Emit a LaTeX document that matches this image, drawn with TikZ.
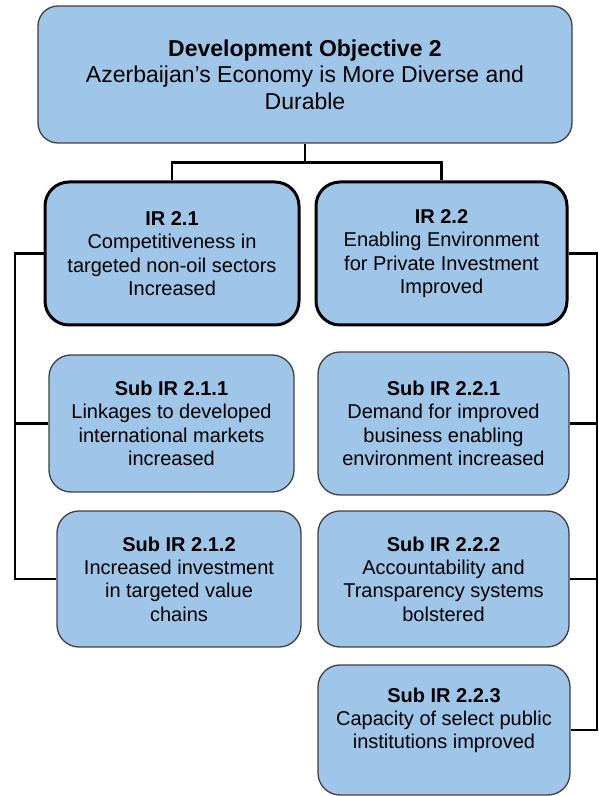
\documentclass[tikz,border=0pt]{standalone}
\usepackage{fontspec}
\setmainfont{Liberation Sans}
\definecolor{boxblue}{RGB}{159,197,232}
\begin{document}
\begin{tikzpicture}[x=1pt,y=1pt,
    dobox/.style={draw=black!75,line width=1.3pt,fill=boxblue,rounded corners=20pt,
        align=center,inner sep=0pt,font=\fontsize{23}{26.7}\selectfont},
    irbox/.style={draw=black,line width=3pt,fill=boxblue,rounded corners=24pt,
        align=center,inner sep=0pt,font=\fontsize{20}{23.3}\selectfont},
    subbox/.style={draw=black!75,line width=1.3pt,fill=boxblue,rounded corners=22pt,
        align=center,inner sep=0pt,font=\fontsize{20}{23.3}\selectfont},
    link/.style={line width=2.7pt}]
    \useasboundingbox (0,0) rectangle (598,796);
    % objective and results
    \node[dobox,minimum width=534,minimum height=137] (do) at (305,721.5)
        {\textbf{Development Objective 2}\\Azerbaijan’s Economy is More Diverse and\\Durable};
    \node[irbox,minimum width=254,minimum height=143] (ir1) at (172,542.5)
        {\textbf{IR 2.1}\\Competitiveness in\\targeted non-oil sectors\\Increased};
    \node[irbox,minimum width=251,minimum height=143] (ir2) at (441.5,542.5)
        {\textbf{IR 2.2}\\Enabling Environment\\for Private Investment\\Improved};
    % sub results
    \node[subbox,minimum width=245,minimum height=137] (s211) at (171.5,372.5)
        {\textbf{Sub IR 2.1.1}\\Linkages to developed\\international markets\\increased};
    \node[subbox,minimum width=244,minimum height=136] (s212) at (179,217)
        {\textbf{Sub IR 2.1.2}\\Increased investment\\in targeted value\\chains};
    \node[subbox,minimum width=251,minimum height=143] (s221) at (443.5,372.5)
        {\textbf{Sub IR 2.2.1}\\Demand for improved\\business enabling\\environment increased};
    \node[subbox,minimum width=251,minimum height=136] (s222) at (443.5,217)
        {\textbf{Sub IR 2.2.2}\\Accountability and\\Transparency systems\\bolstered};
    \node[subbox,minimum width=252,minimum height=130] (s223) at (444,66)
        {\textbf{Sub IR 2.2.3}\\Capacity of select public\\institutions improved\\\mbox{}};
    % connectors
    \draw[link] (do.south) -- ++(0,-19) coordinate (fork) -| (ir1.north);
    \draw[link] (fork) -| (ir2.north);
    \coordinate (lbus) at (15,0);
    \coordinate (rbus) at (597,0);
    \draw[link] (ir1.west) -| (lbus |- s212.west) -- (s212.west);
    \draw[link] (s211.west) -- (s211.west -| lbus);
    \draw[link] (ir2.east) -| (rbus |- s223.east) -- (s223.east);
    \draw[link] (s221.east) -- (s221.east -| rbus);
    \draw[link] (s222.east) -- (s222.east -| rbus);
\end{tikzpicture}
\end{document}
